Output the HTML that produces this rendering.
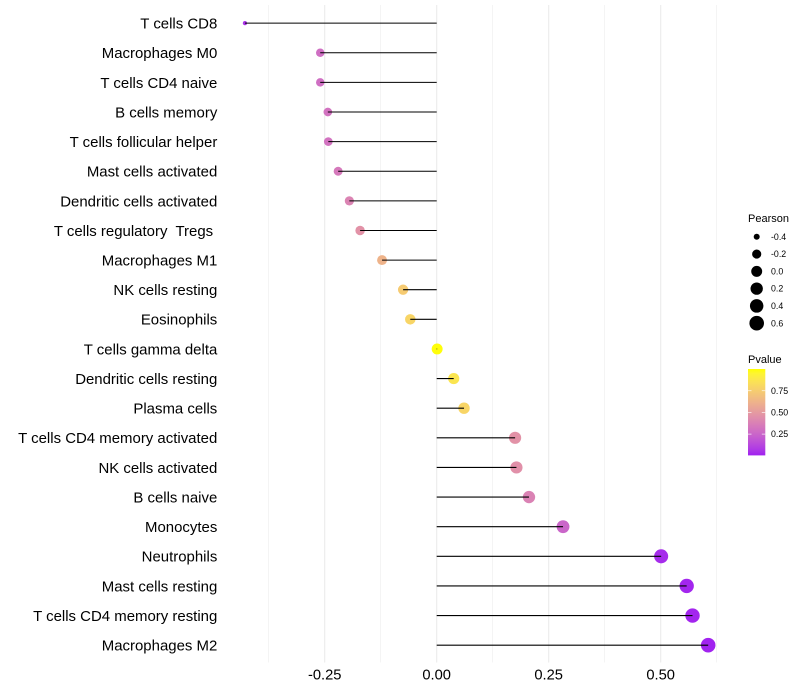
<!DOCTYPE html>
<html>
<head>
<meta charset="utf-8">
<title>Lollipop chart</title>
<style>
html,body{margin:0;padding:0;background:#fff;width:800px;height:700px;overflow:hidden}
svg{display:block}
text{font-family:"Liberation Sans",sans-serif;white-space:pre}
</style>
</head>
<body>
<svg id="chart" xmlns="http://www.w3.org/2000/svg" width="800" height="700" viewBox="0 0 800 700">
<defs>
<linearGradient id="pvalue-gradient" x1="0" y1="1" x2="0" y2="0"></linearGradient>
</defs>
<rect width="800" height="700" fill="#fff"></rect>
<g id="grid"></g>
<g id="dots"></g>
<g id="stems"></g>
<g id="ylabels"></g>
<g id="xlabels"></g>
<g id="size-legend">
<text x="748" y="222" font-size="11" fill="#000">Pearson</text>
</g>
<g id="color-legend">
<text x="748" y="363" font-size="11" fill="#000">Pvalue</text>
<rect id="colorbar" x="748" y="369" width="17.3" height="86.4" fill="url(#pvalue-gradient)"></rect>
</g>
</svg>
<script>
const categories = ["T cells CD8","Macrophages M0","T cells CD4 naive","B cells memory","T cells follicular helper","Mast cells activated","Dendritic cells activated","T cells regulatory  Tregs ","Macrophages M1","NK cells resting","Eosinophils","T cells gamma delta","Dendritic cells resting","Plasma cells","T cells CD4 memory activated","NK cells activated","B cells naive","Monocytes","Neutrophils","Mast cells resting","T cells CD4 memory resting","Macrophages M2"];
const pearson = [-0.428,-0.26,-0.26,-0.243,-0.242,-0.22,-0.195,-0.171,-0.122,-0.075,-0.059,0.001,0.038,0.061,0.175,0.178,0.206,0.282,0.501,0.558,0.571,0.606];
const pvalue = [0.05,0.29,0.29,0.31,0.31,0.34,0.39,0.46,0.62,0.74,0.79,0.995,0.87,0.79,0.46,0.45,0.38,0.25,0.03,0.015,0.012,0.006];
const xMajorTicks = [-0.25,0,0.25,0.5];
const xMinorTicks = [-0.375,-0.125,0.125,0.375,0.625];
const xTickLabels = ["-0.25","0.00","0.25","0.50"];
const sizeLegendValues = [-0.4,-0.2,0,0.2,0.4,0.6];
const sizeLegendLabels = ["-0.4","-0.2","0.0","0.2","0.4","0.6"];
const colorLegendValues = [0.25,0.5,0.75];
const colorLegendLabels = ["0.25","0.50","0.75"];

const NS = "http://www.w3.org/2000/svg";
function mk(tag, attrs, parent, text) {
  const el = document.createElementNS(NS, tag);
  for (const k in attrs) el.setAttribute(k, attrs[k]);
  if (text !== undefined) el.textContent = text;
  parent.appendChild(el);
  return el;
}
const xScale = v => 436.7 + 448 * v;
const yScale = i => 23.14 + 29.62 * i;
const minR = Math.min(...pearson), maxR = Math.max(...pearson);
const dia = v => 4.3 + 10.3 * Math.sqrt(Math.max(0, (v - minR) / (maxR - minR)));
const barY = p => 455.4 - (p - 0.005) * (86.4 / 0.995);

function srgb2lin(c){c/=255;return c<=0.04045?c/12.92:Math.pow((c+0.055)/1.055,2.4);}
function lin2srgb(c){c=Math.max(0,Math.min(1,c));return Math.round(255*(c<=0.0031308?12.92*c:1.055*Math.pow(c,1/2.4)-0.055));}
function toLab(rgb){
  const r=srgb2lin(rgb[0]),g=srgb2lin(rgb[1]),b=srgb2lin(rgb[2]);
  const f=t=>t>0.008856?Math.cbrt(t):7.787*t+16/116;
  const X=f((0.4124*r+0.3576*g+0.1805*b)/0.95047),Y=f(0.2126*r+0.7152*g+0.0722*b),Z=f((0.0193*r+0.1192*g+0.9505*b)/1.08883);
  return [116*Y-16,500*(X-Y),200*(Y-Z)];
}
function fromLab(l){
  const fy=(l[0]+16)/116,fx=fy+l[1]/500,fz=fy-l[2]/200;
  const g=t=>{const c=t*t*t;return c>0.008856?c:(t-16/116)/7.787;};
  const X=g(fx)*0.95047,Y=g(fy),Z=g(fz)*1.08883;
  return "rgb("+lin2srgb(3.2406*X-1.5372*Y-0.4986*Z)+","+lin2srgb(-0.9689*X+1.8758*Y+0.0415*Z)+","+lin2srgb(0.0557*X-0.2040*Y+1.0570*Z)+")";
}
const labLow = toLab([160,32,240]), labHigh = toLab([255,255,0]);
function colorFor(p){
  const t = Math.max(0, Math.min(1, p));
  return fromLab(labLow.map((v, i) => v + (labHigh[i] - v) * t));
}

const grid = document.getElementById("grid");
xMinorTicks.forEach(v => {
  const l = mk("line", {x1:xScale(v), x2:xScale(v), y1:5, y2:662.5, stroke:"#ebebeb", "stroke-width":0.55}, grid);
  
  
});
xMajorTicks.forEach(v => {
  const l = mk("line", {x1:xScale(v), x2:xScale(v), y1:5, y2:662.5, stroke:"#ebebeb", "stroke-width":1.07}, grid);
  
  
});

const dots = document.getElementById("dots");
const stems = document.getElementById("stems");
const ylabels = document.getElementById("ylabels");
const xlabels = document.getElementById("xlabels");
categories.forEach((name, i) => {
  const y = yScale(i), x = xScale(pearson[i]);
  const d = mk("circle", {cx:x, cy:y, r:dia(pearson[i]) / 2, fill:colorFor(pvalue[i])}, dots);
  
  
  const s = mk("line", {x1:xScale(0), x2:x, y1:y, y2:y, stroke:"#000", "stroke-width":1.07}, stems);
  
  
  const t = mk("text", {x:217.3, y:y + 5.4, "text-anchor":"end", "font-size":14.96, fill:"#000"}, ylabels, name);
  
  
});
xMajorTicks.forEach((v, i) => {
  const t = mk("text", {x:xScale(v), y:679.4, "text-anchor":"middle", "font-size":14.7, fill:"#000"}, xlabels, xTickLabels[i]);
  
  
});

const sizeLegend = document.getElementById("size-legend");
sizeLegendValues.forEach((v, i) => {
  const y = 236.8 + 17.28 * i;
  const c = mk("circle", {cx:756.7, cy:y, r:dia(v) / 2, fill:"#000"}, sizeLegend);
  
  
  const t = mk("text", {x:771, y:y + 3.1, "font-size":8.8, fill:"#000"}, sizeLegend, sizeLegendLabels[i]);
  
  
});

const grad = document.getElementById("pvalue-gradient");
for (let k = 0; k <= 20; k++) {
  mk("stop", {offset:(k / 20), "stop-color":colorFor(k / 20)}, grad);
}
const colorLegend = document.getElementById("color-legend");
colorLegendValues.forEach((v, i) => {
  const y = barY(v);
  const a = mk("line", {x1:748, x2:751.5, y1:y, y2:y, stroke:"#fff", "stroke-width":0.8, "stroke-opacity":0.8}, colorLegend);
  
  
  const b = mk("line", {x1:761.8, x2:765.3, y1:y, y2:y, stroke:"#fff", "stroke-width":0.8, "stroke-opacity":0.8}, colorLegend);
  
  
  const t = mk("text", {x:771, y:y + 3.1, "font-size":8.8, fill:"#000"}, colorLegend, colorLegendLabels[i]);
  
  
});
</script>
</body>
</html>
